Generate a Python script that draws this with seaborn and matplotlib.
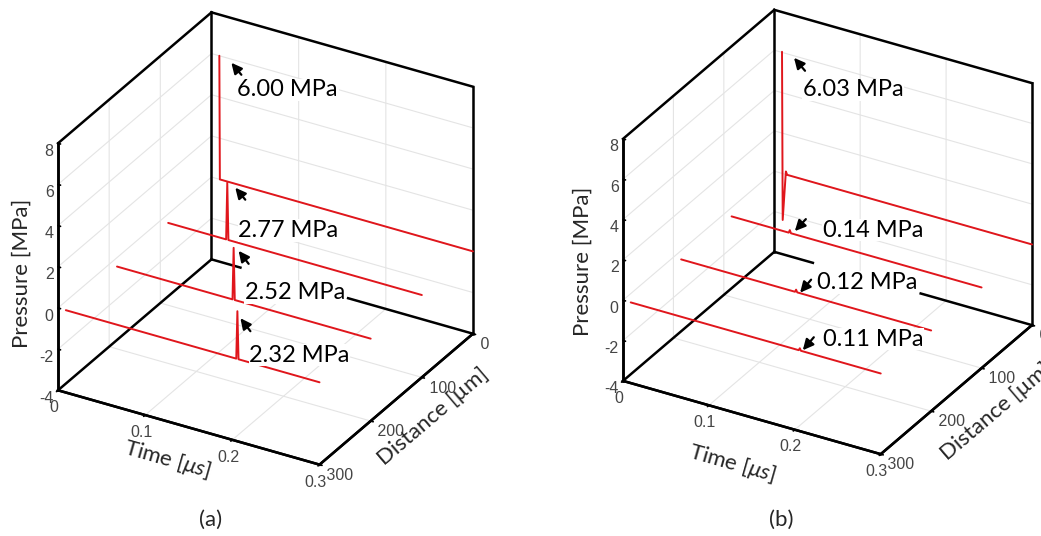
import numpy as np
import matplotlib
matplotlib.use("Agg")
import matplotlib.pyplot as plt
from matplotlib.lines import Line2D
import seaborn as sns
from mpl_toolkits.mplot3d import proj3d

# ---------------- data ----------------
distances = [0, 100, 200, 300]            # µm
time_lim = (0, 0.3)
dist_lim = (0, 300)
pres_lim = (-4, 8)
time_ticks = [0, 0.1, 0.2, 0.3]
time_ticklabels = ["0", "0.1", "0.2", "0.3"]
dist_ticks = [0, 100, 200, 300]
dist_ticklabels = [" 0", " 100", " 200", " 300"]
pres_ticks = [-4, -2, 0, 2, 4, 6, 8]
pres_ticklabels = ["-4", "-2", "0", "2", "4", "6", "8"]

# panel (a) traces (time µs, pressure MPa)
a_t0 = [0.009, 0.0096, 0.3]
a_p0 = [6.00, 0.0, 0.0]
a_t1 = [0.009, 0.0755, 0.0768, 0.0781, 0.3]
a_p1 = [0.0, 0.0, 2.77, 0.0, 0.0]
a_t2 = [0.009, 0.1415, 0.1428, 0.1441, 0.3]
a_p2 = [0.0, 0.0, 2.52, 0.0, 0.0]
a_t3 = [0.009, 0.2045, 0.2058, 0.2071, 0.3]
a_p3 = [0.0, 0.0, 2.32, 0.0, 0.0]
a_peak_time = [0.009, 0.0768, 0.1428, 0.2058]
a_peak_value = [6.00, 2.77, 2.52, 2.32]
a_labels = ["6.00 MPa", "2.77 MPa", "2.52 MPa", "2.32 MPa"]

# panel (b) traces
b_t0 = [0.009, 0.0098, 0.0135, 0.015, 0.3]
b_p0 = [6.03, -2.3, 0.15, 0.0, 0.0]
b_t1 = [0.009, 0.0755, 0.0768, 0.0781, 0.3]
b_p1 = [0.0, 0.0, 0.14, 0.0, 0.0]
b_t2 = [0.009, 0.1415, 0.1428, 0.1441, 0.3]
b_p2 = [0.0, 0.0, 0.12, 0.0, 0.0]
b_t3 = [0.009, 0.2045, 0.2058, 0.2071, 0.3]
b_p3 = [0.0, 0.0, 0.11, 0.0, 0.0]
b_peak_time = [0.009, 0.0768, 0.1428, 0.2058]
b_peak_value = [6.03, 0.14, 0.12, 0.11]
b_labels = ["6.03 MPa", "0.14 MPa", "0.12 MPa", "0.11 MPa"]

# ---------------- style ----------------
sns.set_theme(style="white")
plt.rcParams["font.family"] = ["Liberation Sans", "DejaVu Sans"]
plt.rcParams["grid.color"] = "#e4e4e4"
plt.rcParams["grid.linewidth"] = 0.8
plt.rcParams["mathtext.fontset"] = "custom"
plt.rcParams["mathtext.rm"] = "Lato"
plt.rcParams["mathtext.it"] = "Lato:italic"
LABEL_FONT = ["Lato", "DejaVu Sans"]

RED = "#e0161c"
TICKC = "#454545"
EDGE_LW = 1.8
W, H = 1041, 536
fig = plt.figure(figsize=(W / 100, H / 100), dpi=100)
fig.patch.set_facecolor("white")


def style_axes(ax):
    ax.set_proj_type("ortho")
    ax.view_init(elev=29.5, azim=-60)
    ax.set_xlim(*time_lim)
    ax.set_ylim(dist_lim[1], dist_lim[0])
    ax.set_zlim(*pres_lim)
    ax.set_xticks(time_ticks)
    ax.set_xticklabels(time_ticklabels, fontsize=11.5, color=TICKC)
    ax.set_yticks(dist_ticks)
    ax.set_yticklabels(dist_ticklabels, fontsize=11.5, color=TICKC, ha="left")
    ax.set_zticks(pres_ticks)
    ax.set_zticklabels(pres_ticklabels, fontsize=11.5, color=TICKC, ha="right")
    for axis in (ax.xaxis, ax.yaxis, ax.zaxis):
        axis.set_pane_color((1, 1, 1, 1))
        axis.pane.set_edgecolor("none")
        axis.line.set_color("black")
        axis.line.set_linewidth(EDGE_LW)
        axis._axinfo["grid"].update(color="#e4e4e4", linewidth=0.8)
        axis._axinfo["tick"].update(inward_factor=0.12, outward_factor=0.0)
    ax.zaxis.set_ticks_position("upper")
    ax.zaxis.set_label_position("upper")
    ax.tick_params(axis="x", colors="black", labelcolor=TICKC, pad=-3)
    ax.tick_params(axis="y", colors="black", labelcolor=TICKC, pad=-6)
    ax.tick_params(axis="z", colors="black", labelcolor=TICKC, pad=-6)
    # box edges of the three back panes
    t0, t1 = time_lim
    d0, d1 = dist_lim
    zb, zt = pres_lim
    edges = [((t0, t1), (d0, d0), (zb, zb)), ((t0, t1), (d1, d1), (zb, zb)),
             ((t0, t0), (d0, d1), (zb, zb)), ((t1, t1), (d0, d1), (zb, zb)),
             ((t0, t1), (d0, d0), (zt, zt)), ((t0, t0), (d0, d0), (zb, zt)),
             ((t1, t1), (d0, d0), (zb, zt)), ((t0, t0), (d0, d1), (zt, zt)),
             ((t0, t0), (d1, d1), (zb, zt))]
    for ex, ey, ez in edges:
        ax.plot(ex, ey, ez, color="black", lw=EDGE_LW, solid_capstyle="projecting")


def corners(ax):
    xs, ys, zs = np.meshgrid(list(time_lim), list(dist_lim), list(pres_lim), indexing="ij")
    M = ax.get_proj()
    x2, y2, _ = proj3d.proj_transform(xs.ravel(), ys.ravel(), zs.ravel(), M)
    return ax.transData.transform(np.column_stack([x2, y2])).reshape(2, 2, 2, 2)


def fit(ax, aspect, target, zlen):
    # target: (x0, ytop, x1, ybottom) in pixel coords from top-left
    aspect = list(aspect)
    zoom = 1.0
    ax.set_box_aspect(aspect, zoom=zoom)
    for _ in range(5):
        fig.canvas.draw()
        cc = corners(ax)
        c = cc.reshape(-1, 2)
        cur_w = c[:, 0].max() - c[:, 0].min()
        cur_z = abs(cc[0, 1, 1, 1] - cc[0, 1, 0, 1])
        tw = target[2] - target[0]
        zoom *= tw / cur_w
        aspect[2] *= (zlen / cur_z) / (tw / cur_w)
        ax.set_box_aspect(aspect, zoom=zoom)
        fig.canvas.draw()
        c = corners(ax).reshape(-1, 2)
        cx = (c[:, 0].max() + c[:, 0].min()) / 2
        cy = (c[:, 1].max() + c[:, 1].min()) / 2
        tcx = (target[0] + target[2]) / 2
        tcy = H - (target[1] + target[3]) / 2
        pos = ax.get_position(original=True)
        ax.set_position([pos.x0 + (tcx - cx) / W, pos.y0 + (tcy - cy) / H,
                         pos.width, pos.height])


def to_px(ax, t, d, p):
    """Project a data point to pixel coords measured from the top-left."""
    M = ax.get_proj()
    x2, y2, _ = proj3d.proj_transform(np.array([t]), np.array([d]), np.array([p]), M)
    px = ax.transData.transform([[x2[0], y2[0]]])[0]
    return px[0], H - px[1]


def ftext(x, y, s, **kw):
    return fig.text(x / W, 1 - y / H, s, **kw)


axA = fig.add_axes([0.0, 0.05, 0.5, 0.95], projection="3d")
axB = fig.add_axes([0.5, 0.05, 0.5, 0.95], projection="3d")
for ax in (axA, axB):
    style_axes(ax)

a_traces = [(a_t0, a_p0), (a_t1, a_p1), (a_t2, a_p2), (a_t3, a_p3)]
b_traces = [(b_t0, b_p0), (b_t1, b_p1), (b_t2, b_p2), (b_t3, b_p3)]
for ax, traces in ((axA, a_traces), (axB, b_traces)):
    for d, (t, p) in zip(distances, traces):
        ax.plot(t, [d] * len(t), p, color=RED, lw=1.4)

fit(axA, (300, 305, 282), (58, 14, 473, 463), 247)
fit(axB, (300, 305, 282), (623, 11, 1032, 453), 242)
fig.canvas.draw()

# axis labels, placed relative to the projected axis edges
label_offsets = {
    axA: {"time": (-22, 32), "dist": (37, 17), "pres": (-36, 7)},
    axB: {"time": (-20, 46), "dist": (40, 22), "pres": (-40, 1)},
}
for ax in (axA, axB):
    t0, t1 = time_lim
    d0, d1 = dist_lim
    zb, zt = pres_lim
    p0 = np.array(to_px(ax, t0, d1, zb))
    p1 = np.array(to_px(ax, t1, d1, zb))
    p2 = np.array(to_px(ax, t1, d0, zb))
    p3 = np.array(to_px(ax, t0, d1, zt))
    off = label_offsets[ax]
    ang_t = np.degrees(np.arctan2(-(p1[1] - p0[1]), p1[0] - p0[0]))
    ang_d = np.degrees(np.arctan2(-(p2[1] - p1[1]), p2[0] - p1[0]))
    m = (p0 + p1) / 2
    ftext(m[0] + off["time"][0], m[1] + off["time"][1], r"Time [$\mu s$]",
          fontsize=16, family=LABEL_FONT, rotation=ang_t, rotation_mode="anchor",
          ha="center", va="center")
    m = (p1 + p2) / 2
    ftext(m[0] + off["dist"][0], m[1] + off["dist"][1], "Distance [µm]",
          fontsize=16, family=LABEL_FONT, rotation=ang_d, rotation_mode="anchor",
          ha="center", va="center")
    m = (p0 + p3) / 2
    ftext(m[0] + off["pres"][0], m[1] + off["pres"][1], "Pressure [MPa]",
          fontsize=16, family=LABEL_FONT, rotation=90, rotation_mode="anchor",
          ha="center", va="center")

# annotation layouts: (tip dx, dy), (tail dx, dy), (text dx, dy) in px from peak
a_offsets = [((12, 7), (22, 19), (18, 34)),
             ((8, 5), (18, 17), (11, 48)),
             ((5, 3), (15, 16), (11, 45)),
             ((3, 7), (13, 20), (12, 44))]
b_offsets = [((12, 6), (23, 19), (21, 38)),
             ((5, 1), (16, -11), (33, 0)),
             ((4, 3), (15, -10), (21, -7)),
             ((3, 2), (14, -11), (23, -9))]
# the text box of these annotations hides the back floor edge behind it
a_cover = [False, False, True, False]
b_cover = [False, False, True, False]

texts = []
for ax, pt, pv, labels, offs, cov in (
        (axA, a_peak_time, a_peak_value, a_labels, a_offsets, a_cover),
        (axB, b_peak_time, b_peak_value, b_labels, b_offsets, b_cover)):
    for d, t, v, lab, (tip, tail, txt), c in zip(distances, pt, pv, labels, offs, cov):
        px, py = to_px(ax, t, d, v)
        tx = ftext(px + txt[0], py + txt[1], lab, fontsize=17, family=LABEL_FONT,
                   ha="left", va="center", color="black", zorder=4,
                   bbox=dict(facecolor="white", edgecolor="none", pad=0.5))
        texts.append((ax, tx, c))
        fig.add_artist(matplotlib.patches.FancyArrowPatch(
            ((px + tail[0]) / W, 1 - (py + tail[1]) / H),
            ((px + tip[0]) / W, 1 - (py + tip[1]) / H),
            transform=fig.transFigure, arrowstyle="-|>,head_length=0.45,head_width=0.22",
            mutation_scale=14, color="black", lw=1.6, shrinkA=0, shrinkB=0, zorder=4))

fig.canvas.draw()
renderer = fig.canvas.get_renderer()
for ax, tx, c in texts:
    if not c:
        continue
    bb = tx.get_window_extent(renderer)
    e0 = np.array(to_px(ax, time_lim[0], dist_lim[0], pres_lim[0]))
    e1 = np.array(to_px(ax, time_lim[1], dist_lim[0], pres_lim[0]))
    xa, xb = bb.x0 - 3, bb.x1 + 2
    slope = (e1[1] - e0[1]) / (e1[0] - e0[0])
    ya = e0[1] + slope * (xa - e0[0])
    yb = e0[1] + slope * (xb - e0[0])
    fig.add_artist(Line2D([xa / W, xb / W], [1 - ya / H, 1 - yb / H],
                          transform=fig.transFigure, color="white", lw=4.5,
                          solid_capstyle="butt", zorder=3))

ftext(211, 520, "(a)", fontsize=16, family=LABEL_FONT, ha="center", va="center")
ftext(781, 520, "(b)", fontsize=16, family=LABEL_FONT, ha="center", va="center")

fig.savefig("out.png", dpi=100, facecolor="white")
